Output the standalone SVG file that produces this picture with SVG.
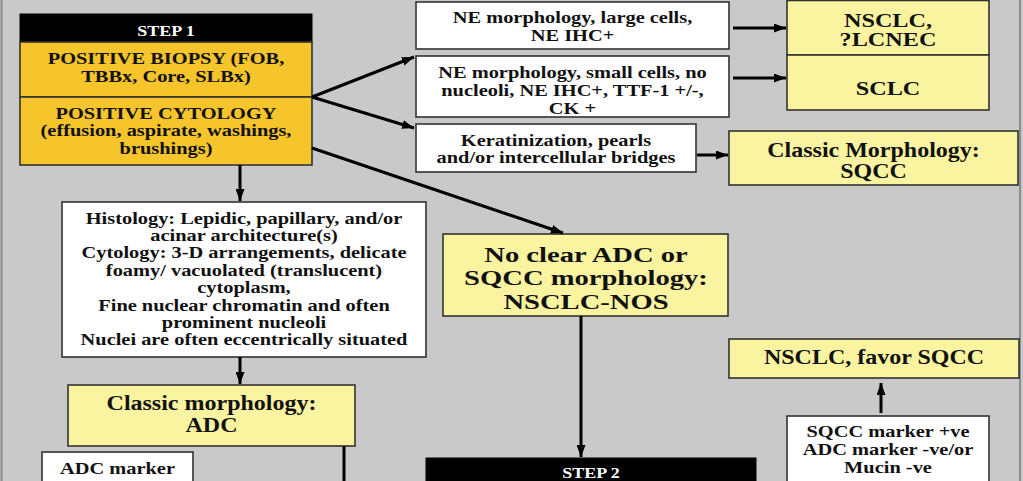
<svg xmlns="http://www.w3.org/2000/svg" width="1023" height="481" viewBox="0 0 1023 481">
<defs>
<marker id="ah" markerWidth="4" markerHeight="3" refX="4" refY="1.5" orient="auto" markerUnits="strokeWidth"><path d="M0,0 L4,1.5 L0,3 z" fill="#000"/></marker>
<style>
text{font-family:"Liberation Serif","Times New Roman",serif;font-weight:bold;text-anchor:middle;fill:#111}
.s15{font-size:15px;fill:#fff}
.s17{font-size:17px}
.s18{font-size:18.5px}
.s20{font-size:20px}
.s22{font-size:22px}
.w{fill:#fff;stroke:#333;stroke-width:1.6}
.y{fill:#faf4a0;stroke:#333;stroke-width:1.6}
.o{fill:#f6c42b;stroke:#333;stroke-width:1.6}
.k{fill:#000;stroke:#000;stroke-width:1}
.c line{stroke:#000;stroke-width:3}
</style>
</defs>
<rect x="0" y="0" width="1023" height="481" fill="#c9c9c9"/>
<rect x="1.5" y="-2" width="1018.5" height="490" fill="none" stroke="#8c8c8c" stroke-width="2"/>

<g id="step1">
<rect class="k" x="20" y="14" width="292" height="28"/>
<text class="s15" transform="translate(166,36) scale(1.2,1)">STEP 1</text>
</g>
<g id="biopsy">
<rect class="o" x="20" y="42" width="292" height="55"/>
<text class="s17" transform="translate(166,63.6) scale(1.2,1)"><tspan x="0" y="0">POSITIVE BIOPSY (FOB,</tspan><tspan x="0" y="18">TBBx, Core, SLBx)</tspan></text>
</g>
<g id="cytology">
<rect class="o" x="20" y="97" width="292" height="68"/>
<text class="s17" transform="translate(166,118.6) scale(1.2,1)"><tspan x="0" y="0">POSITIVE CYTOLOGY</tspan><tspan x="0" y="17.5">(effusion, aspirate, washings,</tspan><tspan x="0" y="35">brushings)</tspan></text>
</g>
<g id="ne-large">
<rect class="w" x="416" y="2" width="313" height="47"/>
<text class="s17" transform="translate(572.5,22.6) scale(1.2,1)"><tspan x="0" y="0">NE morphology, large cells,</tspan><tspan x="0" y="18">NE IHC+</tspan></text>
</g>
<g id="ne-small">
<rect class="w" x="416" y="56" width="313" height="61"/>
<text class="s17" transform="translate(572.5,77.6) scale(1.2,1)"><tspan x="0" y="0">NE morphology, small cells, no</tspan><tspan x="0" y="18">nucleoli, NE IHC+, TTF-1 +/-,</tspan><tspan x="0" y="36">CK +</tspan></text>
</g>
<g id="kerat">
<rect class="w" x="416" y="124" width="280" height="48"/>
<text class="s17" transform="translate(556,145.6) scale(1.2,1)"><tspan x="0" y="0">Keratinization, pearls</tspan><tspan x="0" y="17">and/or intercellular bridges</tspan></text>
</g>
<g id="lcnec">
<rect class="y" x="787" y="0.5" width="202" height="54.5"/>
<text class="s18" transform="translate(888,27) scale(1.31,1)"><tspan x="0" y="0">NSCLC,</tspan><tspan x="0" y="19">?LCNEC</tspan></text>
</g>
<g id="sclc">
<rect class="y" x="787" y="55" width="202" height="55"/>
<text class="s18" transform="translate(888,95.2) scale(1.31,1)">SCLC</text>
</g>
<g id="classic-sqcc">
<rect class="y" x="729" y="131" width="289" height="54"/>
<text class="s20" transform="translate(873.5,156.6) scale(1.2,1)"><tspan x="0" y="0">Classic Morphology:</tspan><tspan x="0" y="21">SQCC</tspan></text>
</g>
<g id="histology">
<rect class="w" x="62" y="202" width="364" height="155"/>
<text class="s17" transform="translate(244,223.6) scale(1.2,1)"><tspan x="0" y="0">Histology: Lepidic, papillary, and/or</tspan><tspan x="0" y="17.4">acinar architecture(s)</tspan><tspan x="0" y="34.8">Cytology: 3-D arrangements, delicate</tspan><tspan x="0" y="52.2">foamy/ vacuolated (translucent)</tspan><tspan x="0" y="69.6">cytoplasm,</tspan><tspan x="0" y="87">Fine nuclear chromatin and often</tspan><tspan x="0" y="104.4">prominent nucleoli</tspan><tspan x="0" y="121.8">Nuclei are often eccentrically situated</tspan></text>
</g>
<g id="nos">
<rect class="y" x="443" y="234" width="285" height="82"/>
<text class="s22" transform="translate(586,261.5) scale(1.3,1)"><tspan x="0" y="0">No clear ADC or</tspan><tspan x="0" y="24">SQCC morphology:</tspan><tspan x="0" y="48">NSCLC-NOS</tspan></text>
</g>
<g id="classic-adc">
<rect class="y" x="68" y="385" width="287" height="61"/>
<text class="s20" transform="translate(211.5,409.6) scale(1.2,1)"><tspan x="0" y="0">Classic morphology:</tspan><tspan x="0" y="22">ADC</tspan></text>
</g>
<g id="adc-marker">
<rect class="w" x="42" y="452" width="151" height="40"/>
<text class="s17" transform="translate(117.5,473.6) scale(1.2,1)">ADC marker</text>
</g>
<g id="favor-sqcc">
<rect class="y" x="729" y="339" width="290" height="39"/>
<text class="s20" transform="translate(874,364) scale(1.2,1)">NSCLC, favor SQCC</text>
</g>
<g id="sqcc-marker">
<rect class="w" x="787" y="416" width="202" height="80"/>
<text class="s17" transform="translate(888,436.6) scale(1.2,1)"><tspan x="0" y="0">SQCC marker +ve</tspan><tspan x="0" y="18">ADC marker -ve/or</tspan><tspan x="0" y="36">Mucin -ve</tspan></text>
</g>
<g id="step2">
<rect class="k" x="426" y="458" width="330" height="30"/>
<text class="s15" transform="translate(591,478) scale(1.2,1)">STEP 2</text>
</g>

<g id="connectors" class="c">
<line x1="312" y1="97" x2="414" y2="57" marker-end="url(#ah)"/>
<line x1="312" y1="97" x2="414" y2="128" marker-end="url(#ah)"/>
<line x1="312" y1="148" x2="563" y2="233" marker-end="url(#ah)"/>
<line x1="240" y1="165" x2="240" y2="201" marker-end="url(#ah)"/>
<line x1="733" y1="28" x2="786" y2="28" marker-end="url(#ah)"/>
<line x1="733" y1="78" x2="786" y2="78" marker-end="url(#ah)"/>
<line x1="697" y1="155" x2="728" y2="155" marker-end="url(#ah)"/>
<line x1="240" y1="357" x2="240" y2="384" marker-end="url(#ah)"/>
<line x1="581" y1="316" x2="581" y2="457" marker-end="url(#ah)"/>
<line x1="881" y1="413" x2="881" y2="383" marker-end="url(#ah)"/>
<line x1="344" y1="446" x2="344" y2="481"/>
</g>
</svg>
